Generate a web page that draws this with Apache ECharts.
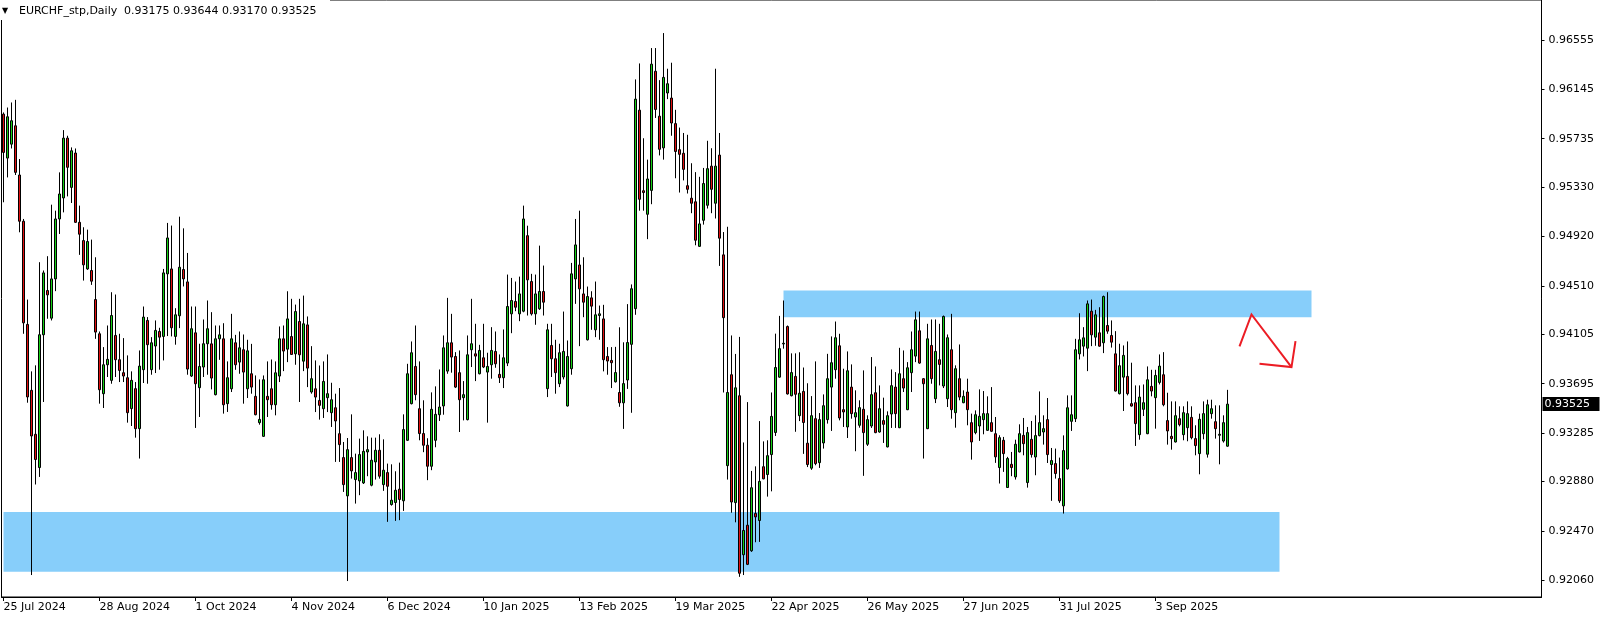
<!DOCTYPE html>
<html>
<head>
<meta charset="utf-8">
<script src="https://cdn.jsdelivr.net/npm/echarts@6/dist/echarts.min.js"></script>
<style>
  html, body { margin: 0; padding: 0; background: #fff; }
  #main { width: 1604px; height: 621px; }
</style>
</head>
<body>
<div id="main"></div>
<script>
// EURCHF daily, prices kept in 1e-5 units (93525 = 0.93525)
const open = [
  95940,95574,95690,95843,95433,95048,94189,93640,93274,92997,
  94103,94471,94241,94568,95067,95242,95740,95330,95616,95039,
  94887,94651,94638,94396,94111,93612,93853,93723,94097,93895,
  93787,93745,93488,93654,93321,93812,94222,93812,94009,94130,
  94089,94610,94651,94089,94261,94646,94543,93759,94119,93662,
  93834,94028,94027,93604,94069,94069,93529,93653,94036,93875,
  93978,93653,93778,93590,93371,93257,93590,93653,93520,93759,
  94069,93983,94088,93944,94213,93883,94185,93626,93653,93556,
  93487,93579,93454,93495,93279,93080,92761,93080,92897,92886,
  92869,93127,92850,93044,93141,92855,92955,92689,92706,92817,
  92720,93224,93529,93839,93487,93280,93183,93008,93224,93437,
  93510,93800,94036,93922,93787,93579,93396,93978,93944,93778,
  93911,93792,93853,93964,93773,93745,93867,94277,94380,94277,
  94299,94928,94546,94277,94319,94463,93654,94014,93903,93695,
  93751,93510,93820,94568,94684,94443,94061,94410,94144,94263,
  94235,93922,93889,93711,93622,93536,93726,94023,94320,95973,
  95302,95106,95305,96297,95923,95659,96116,96074,95861,95644,
  95614,95344,95240,95210,94839,95056,95181,95507,95198,95599,
  94768,93013,93770,92705,93595,92271,92517,92304,92615,92556,
  93004,92939,93105,93289,93750,94026,94171,93595,93756,93429,
  93631,93200,92992,93404,93038,93202,93396,93667,93812,94011,
  93479,93335,93667,93418,93349,93482,93191,93343,93620,93293,
  93388,93169,93443,93667,93329,93737,93479,93787,93925,94136,
  93737,93321,94014,93570,93895,93676,93570,93978,93454,93737,
  93537,93626,93371,93288,93343,93396,93307,93371,93279,92997,
  93224,92831,93024,92919,93127,93265,92872,93232,93085,93263,
  93293,93396,93022,93030,92905,92678,92986,93382,93404,93944,
  94008,93991,94299,94083,94119,94036,94180,94097,93944,93612,
  93750,93756,93529,93537,93271,93482,93279,93673,93579,93706,
  93770,93388,93257,93210,93404,93271,93329,93415,93238,93113,
  93279,93108,93446,93379,93266,93218,93175
];
const high = [
  95954,95995,96037,96059,95566,95067,94396,93798,93848,94707,
  94638,94757,95186,95136,95455,95807,95760,95663,95654,95178,
  94998,94978,94895,94748,94130,94000,94180,94457,94438,94111,
  94075,93931,93798,93709,93972,94338,94250,94083,94222,94161,
  94651,95034,95012,94324,95086,94989,94784,94338,94338,94028,
  94230,94388,94291,94180,94180,94199,93881,94277,94102,94130,
  94105,94061,94027,93764,93731,93764,93881,93897,93881,94172,
  94180,94465,94402,94354,94402,94429,94255,94008,93889,93847,
  93881,93939,93703,93612,93659,93210,93243,93440,93113,93238,
  93307,93257,93246,93246,93274,93232,93030,93024,92966,93038,
  93440,93861,94047,94180,93881,93557,93241,93623,93673,93814,
  94097,94410,94277,93958,93972,93717,94097,94402,94194,94019,
  94194,93953,94166,94130,93939,94147,94604,94576,94546,94587,
  95178,95011,94610,94604,94845,94679,94194,94194,94061,94028,
  94296,94055,94701,95067,95136,94748,94504,94465,94546,94346,
  94352,94000,94000,94002,94165,94040,94358,94522,96229,96362,
  95739,95561,96490,96490,96223,96615,96318,96368,95976,95828,
  95783,95768,95531,95457,95418,95492,95718,95656,96318,95783,
  94958,95002,94097,93943,94085,93206,93542,92969,93007,93384,
  93215,93224,93622,94112,94260,94388,94180,93948,93948,93957,
  93830,93699,93592,93881,93451,93606,93944,94089,94213,94111,
  93820,93964,93856,93640,93557,93806,93432,93917,93839,93681,
  93579,93465,93814,93792,93994,93972,93875,94130,94296,94296,
  93742,94194,94230,94230,94194,94263,94105,94277,93848,94022,
  93640,93737,93446,93473,93648,93634,93590,93667,93418,93266,
  93252,93086,93127,93229,93357,93410,93335,93385,93432,93631,
  93432,93576,93160,93155,93080,93265,93598,93598,94069,94282,
  94166,94388,94396,94310,94332,94429,94457,94222,94133,94028,
  94014,94047,93870,93681,93681,93689,93839,93811,93811,93939,
  93958,93620,93548,93548,93507,93507,93548,93507,93349,93446,
  93548,93562,93562,93515,93515,93432,93644
];
const low = [
  95206,95413,95654,95433,94956,94111,93537,92102,92856,92919,
  93543,94236,94222,94466,94942,95122,95255,95200,95034,94768,
  94554,94643,94518,94069,93529,93493,93751,93695,93751,93709,
  93709,93371,93343,93246,93072,93701,93695,93770,93784,93812,
  93889,94092,94089,94020,94158,94505,93770,93751,93327,93418,
  93751,93770,93648,93598,93894,93446,93460,93626,93811,93778,
  93529,93576,93612,93432,93354,93252,93418,93479,93432,93709,
  93800,93875,93936,93853,93543,93800,93667,93612,93459,93396,
  93410,93459,93335,93044,93044,92794,92052,92905,92697,92767,
  92860,92925,92841,92897,92905,92803,92545,92680,92553,92559,
  92636,93218,93523,93557,93224,93125,92892,92975,93166,93385,
  93437,93778,93787,93659,93293,93390,93390,93834,93717,93773,
  93825,93371,93737,93828,93701,93659,93842,94116,94299,94216,
  94290,94263,94263,94186,94310,94263,93584,93751,93612,93667,
  93731,93505,93770,94360,94008,94249,94055,94144,94083,94061,
  93798,93770,93659,93705,93503,93319,93652,93453,94269,95136,
  95136,94899,95190,95908,95596,95561,96065,95760,95406,95287,
  95388,95279,95115,94848,94835,95020,95154,95115,95071,94676,
  93622,92897,92621,92541,92087,92102,92185,92295,92375,92378,
  92900,92755,92799,93260,93745,93987,93605,93590,93295,93384,
  93111,93001,92978,93016,92994,93155,93363,93302,93737,93390,
  93335,93243,93404,93133,93329,92928,93177,93327,93283,93288,
  93202,93165,93327,93327,93325,93626,93475,93626,93875,93861,
  93072,93317,93695,93534,93681,93659,93501,93404,93329,93557,
  93533,93349,93063,93274,93219,93274,93302,93295,93036,92864,
  92961,92827,92925,92897,93123,93099,92830,93080,92933,93257,
  93188,93035,92720,92905,92703,92614,92980,93302,93376,93897,
  93922,93800,94008,94011,94004,93950,94111,93996,93630,93606,
  93468,93598,93505,93177,93229,93426,93275,93590,93321,93689,
  93507,93188,93146,93206,93340,93224,93216,93232,93099,92941,
  93232,93080,93404,93238,93024,93205,93170
];
const close = [
  95621,95918,95885,95455,95048,94202,93585,93260,93064,94103,
  94618,94435,94568,95067,95275,95740,95497,95635,95039,94940,
  94685,94879,94549,94125,93645,93853,93898,94263,93895,93806,
  93759,93454,93723,93321,93842,94250,94020,94036,94139,94083,
  94618,94909,94161,94269,94665,94568,93817,94153,93695,93839,
  94028,94153,93742,94069,94102,93520,93745,94069,93853,93994,
  93792,93969,93667,93437,93398,93728,93562,93520,93786,94069,
  93967,94235,93939,94296,93936,94194,93825,93737,93584,93515,
  93714,93612,93562,93385,93188,92855,93146,92969,92955,93105,
  93132,93146,93058,93141,92925,92975,92841,92725,92808,92731,
  93313,93778,93953,93604,93280,93183,93008,93482,93440,93501,
  93994,94036,93917,93667,93562,93604,93936,94028,93925,93972,
  93834,93839,93972,93861,93745,93911,94338,94388,94332,94443,
  95067,94560,94277,94443,94463,94374,94144,93903,93787,93953,
  93964,93922,94610,94851,94485,94374,94421,94341,94269,94277,
  93895,93884,93870,93788,93536,93696,94038,94486,96065,95231,
  95287,95400,96356,95979,95647,96246,96193,95866,95629,95605,
  95480,95314,95198,94890,95026,95362,95486,95314,95507,94907,
  94245,93622,92710,93661,92117,92473,92191,92829,92586,92882,
  92903,93096,93423,93830,93987,94032,93610,93788,93607,93616,
  93372,93022,93429,93030,93396,93512,93737,93870,94078,93410,
  93460,93803,93446,93454,93496,93288,93396,93604,93288,93487,
  93357,93429,93679,93446,93778,93659,93828,93978,94227,93867,
  93695,94069,93737,93964,93856,94255,94078,93479,93820,93584,
  93590,93479,93210,93437,93424,93446,93446,93299,93086,93246,
  93113,93072,92997,93191,93279,93196,93288,93105,93263,93371,
  93321,93105,93055,92947,92720,93138,93495,93437,93978,94061,
  94077,94360,94102,94269,94008,94421,94133,94041,93634,93845,
  93931,93612,93509,93363,93584,93537,93728,93634,93764,93842,
  93520,93302,93238,93429,93354,93454,93446,93246,93180,93399,
  93446,93520,93487,93321,93274,93371,93525
];

// right scale labels as shown by the terminal
const priceTicks = [0.96555, 0.96145, 0.95735, 0.95330, 0.94920, 0.94510,
                    0.94105, 0.93695, 0.93285, 0.92880, 0.92470, 0.92060];
const lastPrice = 0.93525;
const headerText = 'EURCHF_stp,Daily';
const headerValues = '0.93175 0.93644 0.93170 0.93525';

// drawn zones: [fromBar, toBar, top, bottom]
const zones = [
  [0, 319, 0.92626, 0.92129],
  [195, 327, 0.94471, 0.94249]
];
// hand-drawn arrow in [bar, price]
const arrowLine = [[309.4, 0.94006], [312.1, 0.94272], [322.05, 0.93834]];
const arrowHead = [[313.95, 0.93862], [322.05, 0.93834], [322.7, 0.94050]];

const MONTHS = ['Jan','Feb','Mar','Apr','May','Jun','Jul','Aug','Sep','Oct','Nov','Dec'];
const nBars = open.length;
const totalSlots = 385;   // empty space on the right of the last bar
const labelEvery = 24;

// trading days from 25 Jul 2024 (no bar on 1 Jan)
const dates = [];
let d = new Date(Date.UTC(2024, 6, 25));
while (dates.length < nBars) {
  const wd = d.getUTCDay();
  const iso = d.toISOString().slice(0, 10);
  if (wd !== 0 && wd !== 6 && iso !== '2025-01-01') {
    dates.push(d.getUTCDate() + ' ' + MONTHS[d.getUTCMonth()] + ' ' + d.getUTCFullYear());
  }
  d.setUTCDate(d.getUTCDate() + 1);
}
const cats = dates.slice();
for (let i = nBars; i < totalSlots; i++) cats.push('x' + i);

const candles = [];
for (let i = 0; i < nBars; i++) {
  candles.push([open[i] / 1e5, close[i] / 1e5, low[i] / 1e5, high[i] / 1e5]);
}

const FONT = 'DejaVu Sans';
const gridLeft = 1.5, gridTop = -1, gridBottom = 24;
const gridRight = 1604 - (gridLeft + totalSlots * 4);
// y pixel scale of the terminal: price = 0.96882 - 0.00008313 * y
const yMax = 0.96882 - 0.00008313 * gridTop;
const yMin = 0.96882 - 0.00008313 * (621 - gridBottom);

const showLabel = (idx) => idx % labelEvery === 0 && idx < nBars;

var myChart = echarts.init(document.getElementById('main'));
const option = {
  animation: false,
  backgroundColor: '#fff',
  grid: {
    left: gridLeft, right: gridRight, top: gridTop, bottom: gridBottom,
    show: true, borderColor: '#000', borderWidth: 1, backgroundColor: '#fff'
  },
  xAxis: {
    type: 'category',
    data: cats,
    boundaryGap: true,
    axisLine: { show: true, lineStyle: { color: '#000', width: 1 } },
    axisTick: { show: true, interval: showLabel, alignWithLabel: true, length: 4, lineStyle: { color: '#000' } },
    axisLabel: {
      interval: showLabel, align: 'left', margin: 5,
      color: '#000', fontFamily: FONT, fontSize: 11
    },
    splitLine: { show: false }
  },
  yAxis: {
    type: 'value',
    position: 'right',
    min: yMin, max: yMax,
    axisLine: { show: true, lineStyle: { color: '#000', width: 1 } },
    axisTick: { show: true, customValues: priceTicks, length: 3, lineStyle: { color: '#000' } },
    axisLabel: {
      customValues: priceTicks, margin: 7,
      formatter: (v) => v.toFixed(5),
      color: '#000', fontFamily: FONT, fontSize: 11
    },
    splitLine: { show: false }
  },
  series: [
    {
      type: 'line',
      data: [],
      z: 1,
      silent: true,
      markArea: {
        silent: true,
        itemStyle: { color: '#87cefa', opacity: 1 },
        data: zones.map(z => [
          { xAxis: z[0], yAxis: z[2] },
          { xAxis: z[1], yAxis: z[3] }
        ])
      }
    },
    {
      type: 'candlestick',
      z: 3,
      data: candles,
      barWidth: 2,
      itemStyle: {
        color: '#16d016',
        color0: '#e01010',
        borderColor: '#000',
        borderColor0: '#000',
        borderWidth: 1
      }
    }
  ]
};
myChart.setOption(option);

// header text, last price box and the hand-drawn arrow
const toPx = (p) => myChart.convertToPixel({ xAxisIndex: 0, yAxisIndex: 0 }, p);
const lastY = myChart.convertToPixel({ yAxisIndex: 0 }, lastPrice);
const axisX = 1604 - gridRight;
myChart.setOption({
  graphic: [
    { type: 'rect', left: 0, top: 0, shape: { width: 330, height: 20 }, style: { fill: '#fff' }, z: 50 },
    { type: 'text', left: 2, top: 7, style: { text: '▼', fill: '#000', font: '8px ' + FONT }, z: 51 },
    { type: 'text', left: 19, top: 6, style: { text: headerText, fill: '#000', font: '11px ' + FONT }, z: 51 },
    { type: 'text', left: 124, top: 6, style: { text: headerValues, fill: '#000', font: '11px ' + FONT }, z: 51 },
    {
      type: 'rect', z: 52,
      shape: { x: axisX + 1, y: Math.round(lastY) - 7, width: 57, height: 14 },
      style: { fill: '#000' }
    },
    {
      type: 'text', z: 53,
      style: {
        x: axisX + 3, y: lastY, text: lastPrice.toFixed(5),
        fill: '#fff', font: '11px ' + FONT, verticalAlign: 'middle', align: 'left'
      }
    },
    {
      type: 'polyline', z: 60,
      shape: { points: arrowLine.map(toPx) },
      style: { stroke: '#ec1c24', lineWidth: 2, fill: null }
    },
    {
      type: 'polyline', z: 60,
      shape: { points: arrowHead.map(toPx) },
      style: { stroke: '#ec1c24', lineWidth: 2, fill: null }
    }
  ]
});
</script>
</body>
</html>
